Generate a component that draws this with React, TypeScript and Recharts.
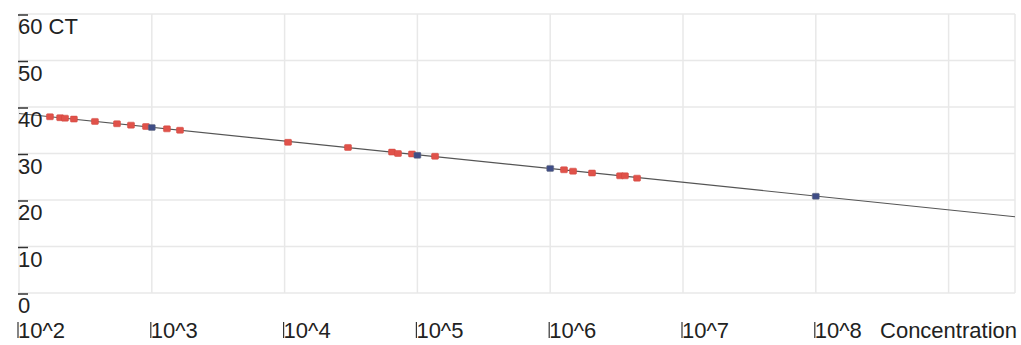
import React from "react";
import { ScatterChart, Scatter, XAxis, YAxis, CartesianGrid, Label } from "recharts";

// Concentration values (x) and CT values (y)
const unknownConc = [171, 204, 222, 259, 373, 547, 697, 904, 1300, 1630, 10620, 30000, 64400, 71400, 91000, 135800, 1270000, 1486000, 2065000, 3357000, 3656000, 4508000];
const unknownCt = [37.9, 37.7, 37.6, 37.4, 36.9, 36.4, 36.1, 35.8, 35.3, 35.0, 32.4, 31.3, 30.3, 30.0, 29.9, 29.4, 26.5, 26.2, 25.8, 25.2, 25.2, 24.7];

const standardConc = [1000, 100000, 1000000, 100000000];
const standardCt = [35.6, 29.6, 26.8, 20.8];

const fitConc = [100, 3162277660];
const fitCt = [38.6, 16.4];

const xTicks = [1e2, 1e3, 1e4, 1e5, 1e6, 1e7, 1e8, 1e9];
const xTickLabels = ["10^2", "10^3", "10^4", "10^5", "10^6", "10^7", "10^8", ""];
const yTicks = [0, 10, 20, 30, 40, 50, 60];
const yUnit = "CT";
const xTitle = "Concentration";

const unknownData = unknownConc.map((x, i) => ({ x, y: unknownCt[i] }));
const standardData = standardConc.map((x, i) => ({ x, y: standardCt[i] }));
const fitData = fitConc.map((x, i) => ({ x, y: fitCt[i] }));

const FONT = "'Liberation Sans', Arial, sans-serif";

const YTick = (props: any) => {
  const { x, y, payload } = props;
  const v = payload.value;
  const label = v === yTicks[yTicks.length - 1] ? `${v} ${yUnit}` : `${v}`;
  return (
    <g>
      <line x1={x - 1} x2={x + 9} y1={y + 1} y2={y + 1} stroke="#333" strokeWidth={1.5} />
      <text x={x - 1} y={y + 20} fontSize={22} fontFamily={FONT} fill="#222">
        {label}
      </text>
    </g>
  );
};

const XTick = (props: any) => {
  const { x, y, payload } = props;
  const idx = xTicks.indexOf(payload.value);
  const label = xTickLabels[idx] ?? "";
  if (!label) return <g />;
  return (
    <g>
      <line x1={x - 1} x2={x - 1} y1={y + 29} y2={y + 45} stroke="#333" strokeWidth={1.2} />
      <text x={x - 1} y={y + 45} fontSize={22} fontFamily={FONT} fill="#222">
        {label}
      </text>
    </g>
  );
};

const RedSquare = (props: any) => {
  const { cx, cy } = props;
  return <rect x={cx - 3.5} y={cy - 3} width={7} height={6} rx={1} fill="#e0524a" stroke="#d0443c" strokeWidth={0.5} />;
};

const BlueSquare = (props: any) => {
  const { cx, cy } = props;
  return <rect x={cx - 3.5} y={cy - 3} width={7} height={6} rx={1} fill="#3f4d86" stroke="#6a7080" strokeWidth={0.5} />;
};

const NoShape = () => <g />;

export default function App() {
  return (
    <div style={{ position: "fixed", top: 0, left: 0, background: "#fff" }}>
      <ScatterChart width={1021} height={345} margin={{ top: 14, right: 6, bottom: 0, left: 0 }}>
        <CartesianGrid stroke="#e8e8e8" strokeWidth={1.5} />
        <XAxis
          dataKey="x"
          type="number"
          scale="log"
          domain={[fitConc[0], fitConc[1]]}
          allowDataOverflow
          ticks={xTicks}
          height={52}
          tickSize={0}
          tickMargin={0}
          axisLine={false}
          tickLine={false}
          tick={<XTick />}
          interval={0}
        >
          <Label
            content={(p: any) => {
              const vb = p.viewBox || {};
              return (
                <text x={vb.x + vb.width + 2} y={vb.y + 45} textAnchor="end" fontSize={22} fontFamily={FONT} fill="#222">
                  {xTitle}
                </text>
              );
            }}
          />
        </XAxis>
        <YAxis
          dataKey="y"
          type="number"
          domain={[0, 60]}
          ticks={yTicks}
          width={19}
          tickSize={0}
          tickMargin={0}
          axisLine={false}
          tickLine={false}
          tick={<YTick />}
          interval={0}
        />
        <Scatter data={fitData} line={{ stroke: "#555", strokeWidth: 1.2 }} shape={<NoShape />} isAnimationActive={false} />
        <Scatter data={unknownData} shape={<RedSquare />} isAnimationActive={false} />
        <Scatter data={standardData} shape={<BlueSquare />} isAnimationActive={false} />
      </ScatterChart>
    </div>
  );
}
